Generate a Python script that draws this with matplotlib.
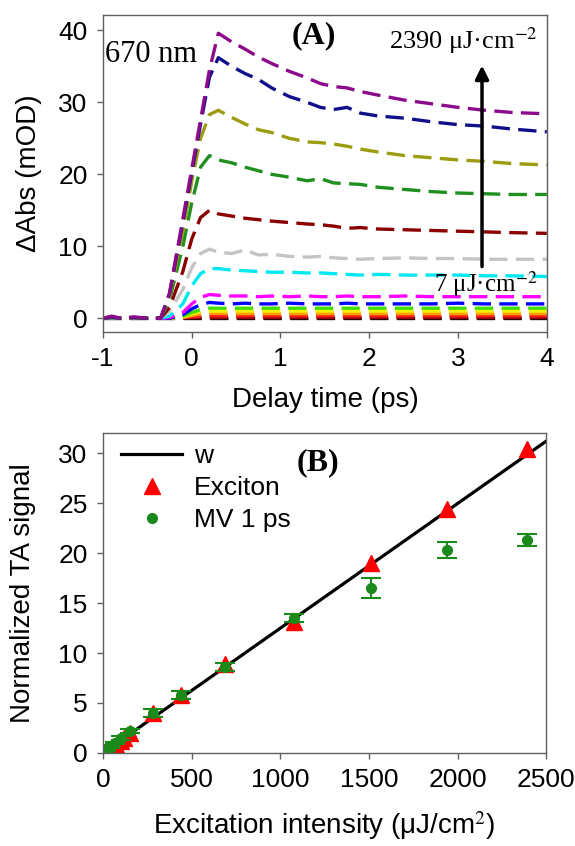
import matplotlib
matplotlib.use("Agg")
import matplotlib.pyplot as plt
from matplotlib.lines import Line2D

plt.rcParams['font.family'] = ['Liberation Sans', 'DejaVu Sans']
plt.rcParams['mathtext.fontset'] = 'stix'
plt.rcParams['axes.unicode_minus'] = False

# (A) kinetics at 670 nm, one trace per pump fluence
delay = [-1.0, -0.9, -0.8, -0.65, -0.5, -0.35, -0.25, -0.1, 0.0, 0.1, 0.2, 0.3, 0.45, 0.6,
         0.75, 0.9, 1.1, 1.3, 1.45, 1.6, 1.75, 1.9, 2.1, 2.4, 2.7, 3.0, 3.3, 3.6, 4.0]

tr_black = [0, 0, 0, 0, 0, 0, 0, 0, 0, 0, 0, 0, 0, 0, 0, 0, 0, 0, 0, 0, 0, 0, 0, 0, 0, 0, 0, 0, 0]
tr_brown = [0, 0, 0, 0, 0, 0, 0, 0.05, 0.08, 0.1, 0.1, 0.1, 0.1, 0.1, 0.1, 0.1, 0.1, 0.1, 0.1,
            0.1, 0.1, 0.1, 0.1, 0.1, 0.1, 0.1, 0.1, 0.1, 0.1]
tr_red = [0, 0, 0, 0, 0, 0, 0, 0.1, 0.2, 0.3, 0.35, 0.35, 0.35, 0.35, 0.35, 0.35, 0.35, 0.35,
          0.35, 0.35, 0.35, 0.35, 0.35, 0.35, 0.35, 0.35, 0.35, 0.35, 0.35]
tr_orange = [0, 0, 0, 0, 0, 0, 0, 0.1, 0.4, 0.6, 0.7, 0.7, 0.65, 0.65, 0.65, 0.65, 0.65, 0.65,
             0.65, 0.65, 0.65, 0.65, 0.65, 0.65, 0.65, 0.65, 0.65, 0.65, 0.65]
tr_yellow = [0, 0, 0, 0, 0, 0, 0, 0.2, 0.6, 0.9, 1.0, 1.0, 1.0, 1.0, 1.0, 1.0, 1.0, 1.0, 1.0,
             1.0, 1.0, 1.0, 1.0, 1.0, 1.0, 1.0, 1.0, 1.0, 1.0]
tr_lime = [0, 0, 0, 0, 0, 0, 0, 0.3, 0.8, 1.2, 1.4, 1.4, 1.4, 1.4, 1.4, 1.4, 1.4, 1.4, 1.4,
           1.4, 1.4, 1.4, 1.4, 1.4, 1.4, 1.4, 1.4, 1.4, 1.4]
tr_blue = [0, 0, 0, 0, 0, 0, 0, 0.5, 1.3, 1.9, 2.2, 2.1, 2.0, 2.1, 2.0, 2.0, 2.1, 2.0, 2.0,
           2.0, 2.1, 2.0, 2.0, 2.0, 2.0, 2.1, 2.0, 2.0, 2.0]
tr_magenta = [0, 0, 0, 0, 0, 0, 0.1, 0.8, 2.0, 2.9, 3.3, 3.2, 3.1, 3.1, 3.0, 3.1, 3.0, 3.1,
              3.0, 3.0, 3.1, 3.0, 3.0, 3.1, 3.0, 3.0, 3.0, 3.0, 3.0]
tr_cyan = [0, 0, 0, 0, 0, 0, 0.3, 2.0, 4.5, 6.2, 6.9, 6.9, 6.7, 6.6, 6.5, 6.4, 6.4, 6.3, 6.3,
           6.2, 6.1, 6.0, 6.1, 6.0, 6.0, 6.0, 5.9, 5.9, 5.8]
tr_gray = [0, 0.1, 0, 0, 0, 0, 1.0, 4.0, 7.0, 9.0, 9.6, 9.2, 9.0, 9.5, 8.8, 8.9, 8.6, 8.5, 8.6,
           8.4, 8.3, 8.2, 8.3, 8.4, 8.3, 8.3, 8.2, 8.2, 8.2]
tr_darkred = [0, 0.1, 0, 0.1, 0, 0, 1.5, 6.5, 11.0, 14.0, 15.0, 14.5, 14.2, 13.9, 13.7, 13.5,
              13.3, 13.1, 13.0, 12.8, 12.5, 12.6, 12.4, 12.3, 12.2, 12.1, 12.0, 11.9, 11.8]
tr_green = [0, 0.2, 0, 0.1, 0, 0, 2.5, 10.0, 16.0, 21.0, 22.6, 22.0, 21.6, 21.0, 20.5, 20.0,
            19.6, 19.1, 19.4, 18.8, 18.7, 18.6, 18.2, 17.9, 17.6, 17.4, 17.3, 17.2, 17.2]
tr_olive = [0, 0.2, 0, 0.1, 0, 0, 3.0, 12.0, 19.0, 25.0, 28.3, 28.9, 27.9, 27.0, 26.2, 25.8,
            25.0, 24.5, 24.4, 24.2, 23.9, 23.5, 23.1, 22.6, 22.3, 22.0, 21.8, 21.5, 21.3]
tr_navy = [0, 0.2, 0, 0.1, 0, 0, 3.4, 13.3, 20.2, 27.0, 33.5, 36.2, 35.0, 34.0, 33.2, 32.0,
           30.8, 30.0, 29.3, 29.0, 29.3, 28.5, 28.1, 27.8, 27.3, 26.9, 26.7, 26.3, 25.9]
tr_purple = [0, 0.3, 0, 0.2, 0, 0, 3.5, 13.8, 20.7, 27.6, 34.5, 39.6, 38.4, 37.4, 36.3, 35.4,
             34.3, 33.4, 32.6, 32.2, 32.0, 31.5, 31.0, 30.3, 29.8, 29.3, 28.9, 28.6, 28.4]

traces = [(tr_black, 'black'), (tr_brown, '#a00000'), (tr_red, '#ff2020'),
          (tr_orange, '#ff9900'), (tr_yellow, '#f0f000'), (tr_lime, '#44dd00'),
          (tr_blue, '#0000ff'), (tr_magenta, '#ff00ff'), (tr_cyan, '#00e8f0'),
          (tr_gray, '#c4c4c4'), (tr_darkred, '#8b0000'), (tr_green, '#1f8f1f'),
          (tr_olive, '#9c9c10'), (tr_navy, '#10108a'), (tr_purple, '#8c0a8c')]

# (B) fluence dependence
w_x = [0, 2500]
w_y = [0, 31.2]
exc_x = [7, 15, 30, 50, 87, 100, 120, 150, 280, 440, 690, 1080, 1510, 1940, 2390]
exc_y = [0.05, 0.1, 0.3, 0.5, 0.4, 1.2, 1.5, 2.0, 4.0, 5.8, 8.9, 13.1, 19.0, 24.4, 30.4]
mv_x = [7, 20, 40, 70, 100, 150, 280, 440, 690, 1080, 1510, 1940, 2390]
mv_y = [0.1, 0.3, 0.6, 1.0, 1.5, 2.2, 4.0, 5.8, 8.6, 13.5, 16.5, 20.3, 21.3]
mv_err = [0.1, 0.1, 0.1, 0.1, 0.2, 0.2, 0.4, 0.4, 0.4, 0.4, 1.0, 0.8, 0.6]

fig = plt.figure(figsize=(5.75, 8.46), dpi=100)
ax1 = fig.add_axes([0.179, 0.6076, 0.772, 0.3744])
ax2 = fig.add_axes([0.179, 0.110, 0.771, 0.378])

for vals, col in traces:
    ax1.plot(delay, vals, color=col, lw=2.4, dashes=(5.5, 2.5))

ax1.set_xlim(-1, 4)
ax1.set_ylim(-1.9, 42.1)
ax1.set_xticks([-1, 0, 1, 2, 3, 4])
ax1.set_yticks([0, 10, 20, 30, 40])
ax1.set_xlabel('Delay time (ps)', fontsize=20, labelpad=11)
ax1.set_ylabel('ΔAbs (mOD)', fontsize=20, labelpad=12)

serif = ['Liberation Serif', 'DejaVu Serif']
ax1.text(-0.98, 36.7, '670 nm', family=serif, fontsize=22, va='center', ha='left')
ax1.text(1.38, 39.2, '(A)', family=serif, fontsize=23, fontweight='bold', ha='center', va='center')
ax1.text(3.9, 38.5, '2390 μJ·cm$^{-2}$', family=serif, fontsize=19, ha='right', va='center')
ax1.text(3.9, 4.7, '7 μJ·cm$^{-2}$', family=serif, fontsize=18, ha='right', va='center')
ax1.annotate('', xy=(3.27, 35.5), xytext=(3.27, 6.8),
             arrowprops=dict(arrowstyle='-|>', color='black', lw=2.5, mutation_scale=20))

ax2.plot(w_x, w_y, color='black', lw=2.3)
ax2.plot(exc_x, exc_y, ls='none', marker='^', ms=12, color='#ff0000')
ax2.errorbar(mv_x, mv_y, yerr=mv_err, fmt='o', ms=7, color='#1a8a1a', ecolor='#1a8a1a',
             elinewidth=1.5, capsize=7, capthick=1.5)
ax2.set_xlim(0, 2500)
ax2.set_ylim(0, 32)
ax2.set_xticks([0, 500, 1000, 1500, 2000, 2500])
ax2.set_yticks([0, 5, 10, 15, 20, 25, 30])
ax2.set_xlabel('Excitation intensity (μJ/cm$^2$)', fontsize=20, labelpad=12)
ax2.set_ylabel('Normalized TA signal', fontsize=20, labelpad=16)
ax2.text(1213, 29.0, '(B)', family=serif, fontsize=23, fontweight='bold', ha='center', va='center')

handles = [Line2D([], [], color='black', lw=2.3),
           Line2D([], [], ls='none', marker='^', ms=12, color='#ff0000'),
           Line2D([], [], ls='none', marker='o', ms=7, color='#1a8a1a')]
labels = ['w', 'Exciton', 'MV 1 ps']
leg = ax2.legend(handles, labels, loc='upper left', frameon=False, fontsize=19,
                 handlelength=2.3, handletextpad=0.45, labelspacing=0.3,
                 borderaxespad=0.0, borderpad=0.4, bbox_to_anchor=(0.018, 0.998))

for ax in (ax1, ax2):
    for sp in ax.spines.values():
        sp.set_color('#606060')
        sp.set_linewidth(1.0)
    ax.tick_params(direction='out', length=4, width=1, color='#606060', labelsize=19, pad=7)

fig.savefig('out.png', dpi=100)
